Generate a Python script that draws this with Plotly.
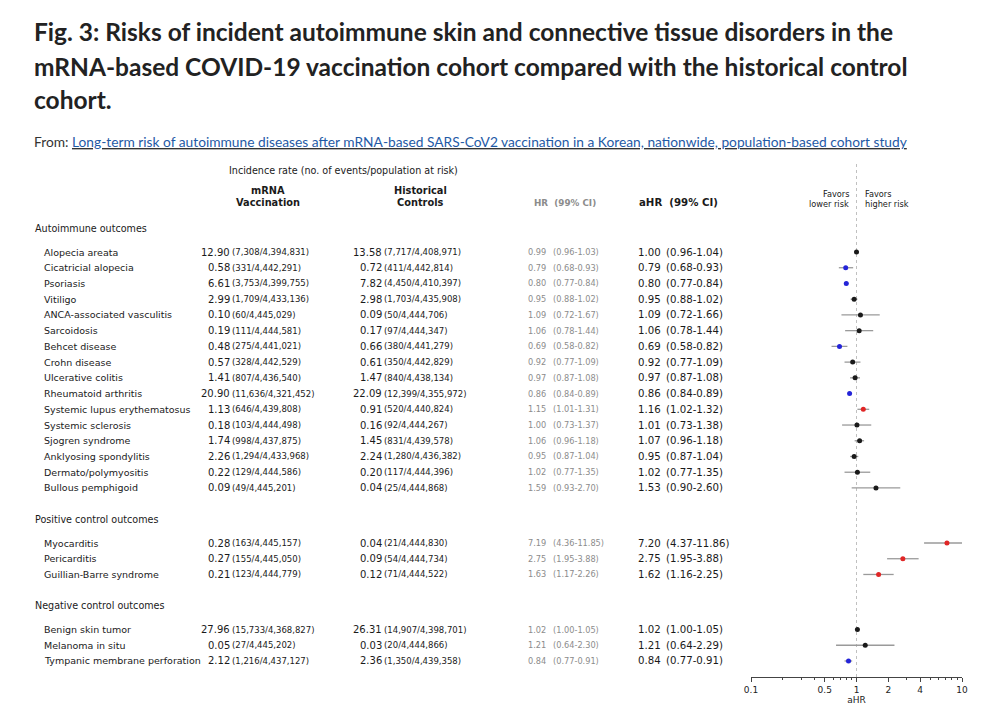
import plotly.graph_objects as go

W, H = 995, 714

# ---------------- data ----------------
groups = ["Autoimmune outcomes", "Positive control outcomes", "Negative control outcomes"]
group_sizes = [16, 3, 3]

outcomes = [
    "Alopecia areata", "Cicatricial alopecia", "Psoriasis", "Vitiligo",
    "ANCA-associated vasculitis", "Sarcoidosis", "Behcet disease", "Crohn disease",
    "Ulcerative colitis", "Rheumatoid arthritis", "Systemic lupus erythematosus",
    "Systemic sclerosis", "Sjogren syndrome", "Anklyosing spondylitis",
    "Dermato/polymyositis", "Bullous pemphigoid",
    "Myocarditis", "Pericarditis", "Guillian-Barre syndrome",
    "Benign skin tumor", "Melanoma in situ", "Tympanic membrane perforation",
]

mrna_rate = [12.90, 0.58, 6.61, 2.99, 0.10, 0.19, 0.48, 0.57, 1.41, 20.90, 1.13,
             0.18, 1.74, 2.26, 0.22, 0.09, 0.28, 0.27, 0.21, 27.96, 0.05, 2.12]
mrna_events = [7308, 331, 3753, 1709, 60, 111, 275, 328, 807, 11636, 646,
               103, 998, 1294, 129, 49, 163, 155, 123, 15733, 27, 1216]
mrna_pop = [4394831, 4442291, 4399755, 4433136, 4445029, 4444581, 4441021, 4442529,
            4436540, 4321452, 4439808, 4444498, 4437875, 4433968, 4444586, 4445201,
            4445157, 4445050, 4444779, 4368827, 4445202, 4437127]

hist_rate = [13.58, 0.72, 7.82, 2.98, 0.09, 0.17, 0.66, 0.61, 1.47, 22.09, 0.91,
             0.16, 1.45, 2.24, 0.20, 0.04, 0.04, 0.09, 0.12, 26.31, 0.03, 2.36]
hist_events = [7717, 411, 4450, 1703, 50, 97, 380, 350, 840, 12399, 520,
               92, 831, 1280, 117, 25, 21, 54, 71, 14907, 20, 1350]
hist_pop = [4408971, 4442814, 4410397, 4435908, 4444706, 4444347, 4441279, 4442829,
            4438134, 4355972, 4440824, 4444267, 4439578, 4436382, 4444396, 4444868,
            4444830, 4444734, 4444522, 4398701, 4444866, 4439358]

hr = [0.99, 0.79, 0.80, 0.95, 1.09, 1.06, 0.69, 0.92, 0.97, 0.86, 1.15,
      1.00, 1.06, 0.95, 1.02, 1.59, 7.19, 2.75, 1.63, 1.02, 1.21, 0.84]
hr_lo = [0.96, 0.68, 0.77, 0.88, 0.72, 0.78, 0.58, 0.77, 0.87, 0.84, 1.01,
         0.73, 0.96, 0.87, 0.77, 0.93, 4.36, 1.95, 1.17, 1.00, 0.64, 0.77]
hr_hi = [1.03, 0.93, 0.84, 1.02, 1.67, 1.44, 0.82, 1.09, 1.08, 0.89, 1.31,
         1.37, 1.18, 1.04, 1.35, 2.70, 11.85, 3.88, 2.26, 1.05, 2.30, 0.91]

ahr = [1.00, 0.79, 0.80, 0.95, 1.09, 1.06, 0.69, 0.92, 0.97, 0.86, 1.16,
       1.01, 1.07, 0.95, 1.02, 1.53, 7.20, 2.75, 1.62, 1.02, 1.21, 0.84]
ahr_lo = [0.96, 0.68, 0.77, 0.88, 0.72, 0.78, 0.58, 0.77, 0.87, 0.84, 1.02,
          0.73, 0.96, 0.87, 0.77, 0.90, 4.37, 1.95, 1.16, 1.00, 0.64, 0.77]
ahr_hi = [1.04, 0.93, 0.84, 1.02, 1.66, 1.44, 0.82, 1.09, 1.08, 0.89, 1.32,
          1.38, 1.18, 1.04, 1.35, 2.60, 11.86, 3.88, 2.25, 1.05, 2.29, 0.91]

x_tickvals = [0.1, 0.5, 1, 2, 4, 10]
x_ticktext = ["0.1", "0.5", "1", "2", "4", "10"]
x_minor = [0.2, 0.3, 0.4, 0.6, 0.7, 0.8, 0.9, 3, 5, 6, 7, 8, 9]

# ---------------- layout helpers ----------------
# the page body adds an 8px margin, so screen positions are compensated here
OFF = 8
ROW_PX = 15.73
R0_PX = 252.0
AX_TOP_PX, AX_BOT_PX = 163.0, 677.0
AX_L_PX, AX_R_PX = 751.0, 962.0


def px_x(px):
    return (px - OFF) / W


def px_y(py):
    return 1 - (py - OFF) / H


header_r = []
row_r = []
r = -1.5
for g, n in zip(groups, group_sizes):
    header_r.append(r)
    r += 1.5
    for i in range(n):
        row_r.append(r)
        r += 1
    r += 1

FONT = "DejaVu Sans"
BLACK = "#1a1a1a"
GRAY = "#8c8c8c"

ann = []


def text(x, y, s, size, color=BLACK, xanchor="left", yref="paper", family=FONT):
    ann.append(dict(x=x, y=y, xref="paper", yref=yref, text=s, showarrow=False,
                    xanchor=xanchor, yanchor="middle", align="left",
                    font=dict(family=family, size=size, color=color),
                    borderpad=0, borderwidth=0))


title_lines = [
    "Fig. 3: Risks of incident autoimmune skin and connective tissue disorders in the",
    "mRNA-based COVID-19 vaccination cohort compared with the historical control",
    "cohort.",
]
for i, t in enumerate(title_lines):
    text(px_x(34), px_y(32 + 34 * i), "<b>" + t + "</b>", 24.5, "#222222", family="Lato")

text(px_x(34), px_y(141),
     "From: <span style=\"text-decoration:underline\">"
     "<span style=\"fill:#1f5aa6\">Long-term risk of autoimmune diseases after mRNA-based SARS-CoV2 "
     "vaccination in a Korean, nationwide, population-based cohort study</span></span>",
     13.75, "#333333", family="Lato")

text(px_x(343), px_y(171), "Incidence rate (no. of events/population at risk)", 9.6, xanchor="center")
text(px_x(268), px_y(190), "<b>mRNA</b>", 9.8, xanchor="center")
text(px_x(268), px_y(203), "<b>Vaccination</b>", 9.8, xanchor="center")
text(px_x(420), px_y(190), "<b>Historical</b>", 9.8, xanchor="center")
text(px_x(420), px_y(203), "<b>Controls</b>", 9.8, xanchor="center")
text(px_x(565), px_y(203), "<b>HR  (99% CI)</b>", 8.8, GRAY, xanchor="center")
text(px_x(678), px_y(203), "<b>aHR  (99% CI)</b>", 10.2, xanchor="center")
text(px_x(849), px_y(194), "Favors", 8.2, xanchor="right")
text(px_x(849), px_y(204), "lower risk", 8.2, xanchor="right")
text(px_x(865), px_y(194), "Favors", 8.2, xanchor="left")
text(px_x(865), px_y(204), "higher risk", 8.2, xanchor="left")

for g, hr_ in zip(groups, header_r):
    text(px_x(35), hr_, g, 9.6, yref="y")

for i, name in enumerate(outcomes):
    y = row_r[i]
    text(px_x(44), y, name, 9.5, yref="y")
    text(px_x(230), y, f"{mrna_rate[i]:.2f}", 10, xanchor="right", yref="y")
    text(px_x(232), y, f"({mrna_events[i]:,}/{mrna_pop[i]:,})", 8.5, yref="y")
    text(px_x(382), y, f"{hist_rate[i]:.2f}", 10, xanchor="right", yref="y")
    text(px_x(384), y, f"({hist_events[i]:,}/{hist_pop[i]:,})", 8.5, yref="y")
    text(px_x(528), y, f"{hr[i]:.2f}", 8.2, GRAY, yref="y")
    text(px_x(553), y, f"({hr_lo[i]:.2f}-{hr_hi[i]:.2f})", 8.2, GRAY, yref="y")
    text(px_x(638), y, f"{ahr[i]:.2f}", 10.2, yref="y")
    text(px_x(666), y, f"({ahr_lo[i]:.2f}-{ahr_hi[i]:.2f})", 10.2, yref="y")

colors = []
for lo, hi in zip(ahr_lo, ahr_hi):
    if hi < 1:
        colors.append("#2424d8")
    elif lo > 1:
        colors.append("#e02626")
    else:
        colors.append("#1a1a1a")

fig = go.Figure()
fig.add_trace(go.Scatter(
    x=ahr, y=row_r, mode="markers",
    marker=dict(size=5, color=colors, line=dict(width=0)),
    error_x=dict(type="data", symmetric=False,
                 array=[h - v for h, v in zip(ahr_hi, ahr)],
                 arrayminus=[v - l for v, l in zip(ahr, ahr_lo)],
                 color="#9a9a9a", thickness=1.3, width=0),
    showlegend=False, hoverinfo="skip",
))

r_bot = (AX_BOT_PX - R0_PX) / ROW_PX
r_top = (AX_TOP_PX - R0_PX) / ROW_PX

fig.update_layout(
    width=W, height=H,
    margin=dict(l=0, r=0, t=0, b=0, pad=0),
    paper_bgcolor="white", plot_bgcolor="white",
    annotations=ann,
    xaxis=dict(type="log", range=[-1, 1], domain=[px_x(AX_L_PX), px_x(AX_R_PX)],
               tickvals=x_tickvals, ticktext=x_ticktext, ticks="outside", ticklen=4,
               tickwidth=1, tickcolor="#444", showline=True, linecolor="#444", linewidth=1,
               showgrid=False, zeroline=False, automargin=False,
               minor=dict(tickvals=x_minor, ticks="outside", ticklen=2, tickcolor="#444", showgrid=False),
               tickfont=dict(family=FONT, size=9, color="#222"),
               title=dict(text="aHR", font=dict(family=FONT, size=9, color="#222"), standoff=0),
               fixedrange=True),
    yaxis=dict(range=[r_bot, r_top], domain=[px_y(AX_BOT_PX), px_y(AX_TOP_PX)],
               visible=False, showgrid=False, zeroline=False, fixedrange=True, automargin=False),
    shapes=[dict(type="line", xref="x", yref="paper", x0=1, x1=1,
                 y0=px_y(AX_BOT_PX), y1=px_y(AX_TOP_PX),
                 line=dict(color="#c0c0c0", width=1, dash="dot"), layer="below")],
)

fig.write_html("out.html")
